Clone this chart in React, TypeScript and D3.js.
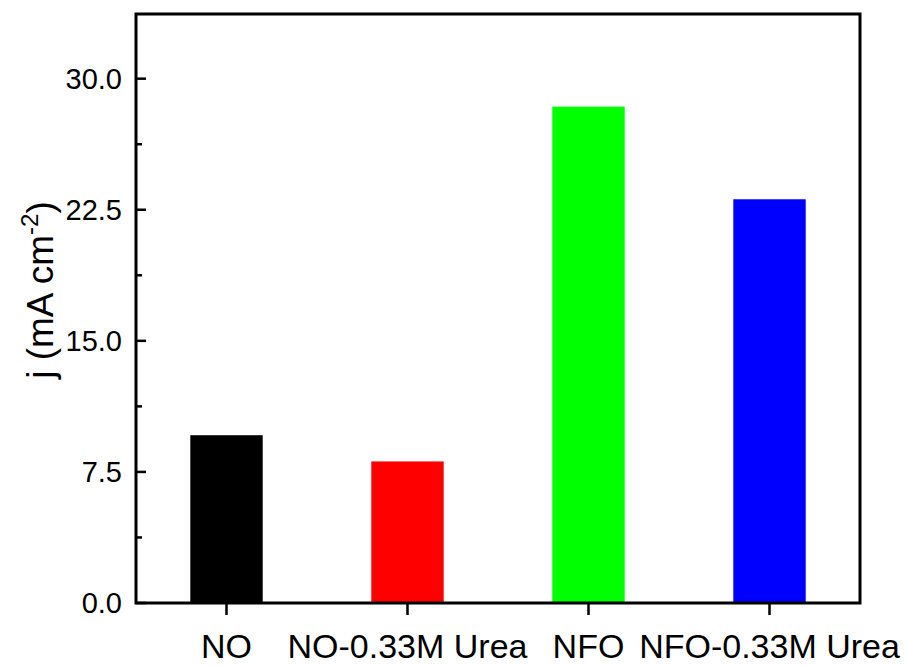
import React from "react";
import * as d3 from "d3";

// Current density for each electrode / electrolyte combination
const categories = ["NO", "NO-0.33M Urea", "NFO", "NFO-0.33M Urea"];
const currentDensity = [9.6, 8.1, 28.4, 23.1];
const barColors = ["#000000", "#ff0000", "#00ff00", "#0000ff"];
const majorTicks = [0, 7.5, 15, 22.5, 30];
const minorTicks = [3.75, 11.25, 18.75, 26.25, 33.75];

const W = 906;
const H = 666;
const left = 136;
const right = 860;
const top = 14;
const bottom = 603;
const FONT = "Arial, 'Liberation Sans', Helvetica, sans-serif";

export default function App() {
  const x = d3
    .scaleBand<string>()
    .domain(categories)
    .range([left, right])
    .paddingInner(0.6)
    .paddingOuter(0.3);
  const y = d3.scaleLinear().domain([0, 33.7]).range([bottom, top]);
  const fmt = d3.format(".1f");

  return (
    <svg
      width={W}
      height={H}
      style={{ position: "absolute", left: 0, top: 0, background: "#fff" }}
      fontFamily={FONT}
    >
      <rect x={0} y={0} width={W} height={H} fill="#fff" />
      {categories.map((c, i) => (
        <rect
          key={c}
          x={x(c)}
          y={y(currentDensity[i])}
          width={x.bandwidth()}
          height={y(0) - y(currentDensity[i])}
          fill={barColors[i]}
        />
      ))}
      {/* frame */}
      <rect
        x={left}
        y={top}
        width={right - left}
        height={bottom - top}
        fill="none"
        stroke="#000"
        strokeWidth={3}
      />
      {/* y ticks (inward) */}
      {majorTicks.map((t) => (
        <g key={"M" + t}>
          <line x1={left} x2={left + 10} y1={y(t)} y2={y(t)} stroke="#000" strokeWidth={2.5} />
          <text x={left - 14} y={y(t) + 10} textAnchor="end" fontSize={29} fill="#000">
            {fmt(t)}
          </text>
        </g>
      ))}
      {minorTicks
        .filter((t) => y(t) > top + 2)
        .map((t) => (
          <line key={"m" + t} x1={left} x2={left + 6} y1={y(t)} y2={y(t)} stroke="#000" strokeWidth={2.5} />
        ))}
      {/* x ticks (outward) */}
      {categories.map((c) => {
        const cx = (x(c) as number) + x.bandwidth() / 2;
        return (
          <g key={"x" + c}>
            <line x1={cx} x2={cx} y1={bottom} y2={bottom + 12} stroke="#000" strokeWidth={2.5} />
            <text x={cx} y={658} textAnchor="middle" fontSize={34} fill="#000">
              {c}
            </text>
          </g>
        );
      })}
      {/* y axis title */}
      <text
        transform={`translate(53, 290) rotate(-90)`}
        textAnchor="middle"
        fontSize={37}
        fill="#000"
      >
        j (mA cm
        <tspan fontSize={24} dy={-15}>-2</tspan>
        <tspan dy={15}>)</tspan>
      </text>
    </svg>
  );
}
